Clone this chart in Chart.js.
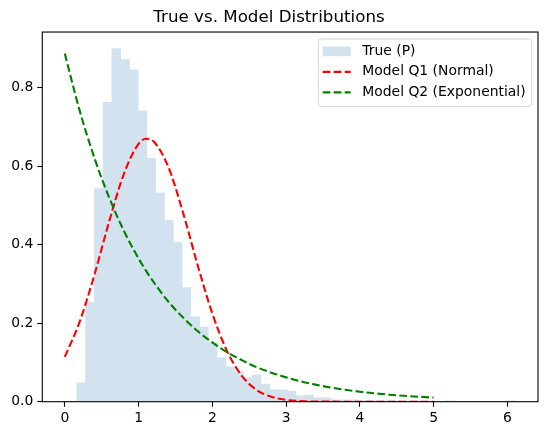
<!DOCTYPE html>
<html>
<head>
<meta charset="utf-8">
<script src="https://cdn.jsdelivr.net/npm/chart.js@4.4.1/dist/chart.umd.min.js"></script>
<style>
  html, body { margin: 0; padding: 0; background: #fff; }
  #wrap { width: 547px; height: 435px; }
</style>
</head>
<body>
<div id="wrap"><canvas id="chart" width="547" height="435"></canvas></div>
<script>
// ── Data ────────────────────────────────────────────────────────────────────
const HIST_START = 0.163;   // left edge of first bin
const HIST_WIDTH = 0.1189;  // bin width (50 bins)
const histDensity = [
  0.048, 0.253, 0.543, 0.763, 0.900, 0.872, 0.846, 0.741, 0.620, 0.532,
  0.463, 0.407, 0.291, 0.216, 0.190, 0.151, 0.112, 0.089, 0.077, 0.061,
  0.068, 0.045, 0.030, 0.030, 0.027, 0.015, 0.017, 0.010, 0.010, 0.005,
  0.005, 0.005, 0.003, 0.003, 0.002, 0.002, 0.002, 0.000, 0.002, 0.000,
  0.000, 0.000, 0.002, 0.000, 0.000, 0.000, 0.000, 0.000, 0.000, 0.002
];

const curveX = [0, 0.2, 0.4, 0.6, 0.8, 1.0, 1.1, 1.2, 1.4, 1.6, 1.8, 2.0, 2.2, 2.4,
  2.6, 2.8, 3.0, 3.2, 3.4, 3.6, 3.8, 4.0, 4.2, 4.4, 4.6, 4.8, 5.0];
const normalQ1 = [0.114, 0.203, 0.322, 0.458, 0.580, 0.657, 0.670, 0.664, 0.600, 0.484,
  0.349, 0.225, 0.129, 0.066, 0.030, 0.0125, 0.0046, 0.0015, 0.0004, 0.0001,
  0, 0, 0, 0, 0, 0, 0];
const expQ2 = [0.887, 0.743, 0.622, 0.521, 0.436, 0.365, 0.334, 0.306, 0.256, 0.215,
  0.180, 0.151, 0.126, 0.106, 0.088, 0.074, 0.062, 0.052, 0.0435, 0.0364,
  0.0305, 0.0255, 0.0214, 0.0179, 0.0150, 0.0126, 0.0105];

const xTicks = [0, 1, 2, 3, 4, 5, 6];
const yTicks = [0.0, 0.2, 0.4, 0.6, 0.8];

const FONT = 'DejaVu Sans';

const histPoints = histDensity.map((v, i) => ({ x: HIST_START + HIST_WIDTH * (i + 0.5), y: v }));
const pts = arr => arr.map((v, i) => ({ x: curveX[i], y: v }));

// ── Frame + legend drawn matplotlib-style ───────────────────────────────────
const mplFrame = {
  id: 'mplFrame',
  afterDatasetsDraw(chart) {
    const { ctx, chartArea: a } = chart;
    ctx.save();
    ctx.strokeStyle = '#000';
    ctx.lineWidth = 1.1;
    ctx.strokeRect(a.left, a.top, a.right - a.left, a.bottom - a.top);

    // legend box
    const bx = a.right - 219.7, by = a.top + 7, bw = 213.4, bh = 67.4;
    ctx.beginPath();
    ctx.roundRect(bx, by, bw, bh, 3);
    ctx.fillStyle = 'rgba(255,255,255,0.8)';
    ctx.fill();
    ctx.strokeStyle = 'rgba(204,204,204,0.8)';
    ctx.lineWidth = 1;
    ctx.stroke();

    ctx.font = `13.9px "${FONT}"`;
    ctx.textBaseline = 'middle';
    chart.data.datasets.forEach((ds, i) => {
      const cy = by + 12.3 + i * 20.5;
      const hx = bx + 4.4;
      if (ds.type === 'bar') {
        ctx.fillStyle = ds.backgroundColor;
        ctx.fillRect(hx, cy - 4.8, 28, 9.7);
      } else {
        ctx.strokeStyle = ds.borderColor;
        ctx.lineWidth = 2.1;
        ctx.setLineDash(ds.borderDash);
        ctx.beginPath();
        ctx.moveTo(hx, cy);
        ctx.lineTo(hx + 28, cy);
        ctx.stroke();
        ctx.setLineDash([]);
      }
      ctx.fillStyle = '#000';
      ctx.fillText(ds.label, bx + 44, cy);
    });
    ctx.restore();
  }
};

new Chart(document.getElementById('chart'), {
  type: 'bar',
  data: {
    datasets: [
      {
        type: 'bar',
        label: 'True (P)',
        data: histPoints,
        backgroundColor: 'rgb(210,227,239)',
        borderWidth: 0,
        barPercentage: 1,
        categoryPercentage: 1,
        order: 3
      },
      {
        type: 'line',
        label: 'Model Q1 (Normal)',
        data: pts(normalQ1),
        borderColor: '#ff0000',
        borderWidth: 2.1,
        borderDash: [7.7, 3.3],
        pointRadius: 0,
        cubicInterpolationMode: 'monotone',
        fill: false,
        order: 2
      },
      {
        type: 'line',
        label: 'Model Q2 (Exponential)',
        data: pts(expQ2),
        borderColor: '#008000',
        borderWidth: 2.1,
        borderDash: [7.7, 3.3],
        pointRadius: 0,
        cubicInterpolationMode: 'monotone',
        fill: false,
        order: 1
      }
    ]
  },
  options: {
    responsive: false,
    animation: false,
    layout: { padding: { left: 0, right: 9, top: 0, bottom: 0 } },
    scales: {
      x: {
        type: 'linear',
        min: -0.305,
        max: 6.416,
        offset: false,
        afterFit: s => { s.height = 33.3; },
        afterBuildTicks: s => { s.ticks = xTicks.map(v => ({ value: v })); },
        ticks: {
          font: { family: FONT, size: 13.9 },
          color: '#000',
          padding: 3,
          maxRotation: 0,
          callback: v => String(v)
        },
        grid: { offset: false, drawOnChartArea: false, tickLength: 5, tickColor: '#000', tickWidth: 1.1 },
        border: { display: false }
      },
      y: {
        min: 0,
        max: 0.942,
        afterFit: s => { s.width = 42.3; },
        afterBuildTicks: s => { s.ticks = yTicks.map(v => ({ value: v })); },
        ticks: {
          font: { family: FONT, size: 13.9 },
          color: '#000',
          padding: 4,
          callback: v => v.toFixed(1)
        },
        grid: { drawOnChartArea: false, tickLength: 5, tickColor: '#000', tickWidth: 1.1 },
        border: { display: false }
      }
    },
    plugins: {
      legend: { display: false },
      tooltip: { enabled: false },
      title: {
        display: true,
        text: 'True vs. Model Distributions',
        color: '#000',
        font: { family: FONT, size: 16.7, weight: 'normal' },
        padding: { top: 8, bottom: 4 }
      }
    }
  },
  plugins: [mplFrame]
});
</script>
</body>
</html>
